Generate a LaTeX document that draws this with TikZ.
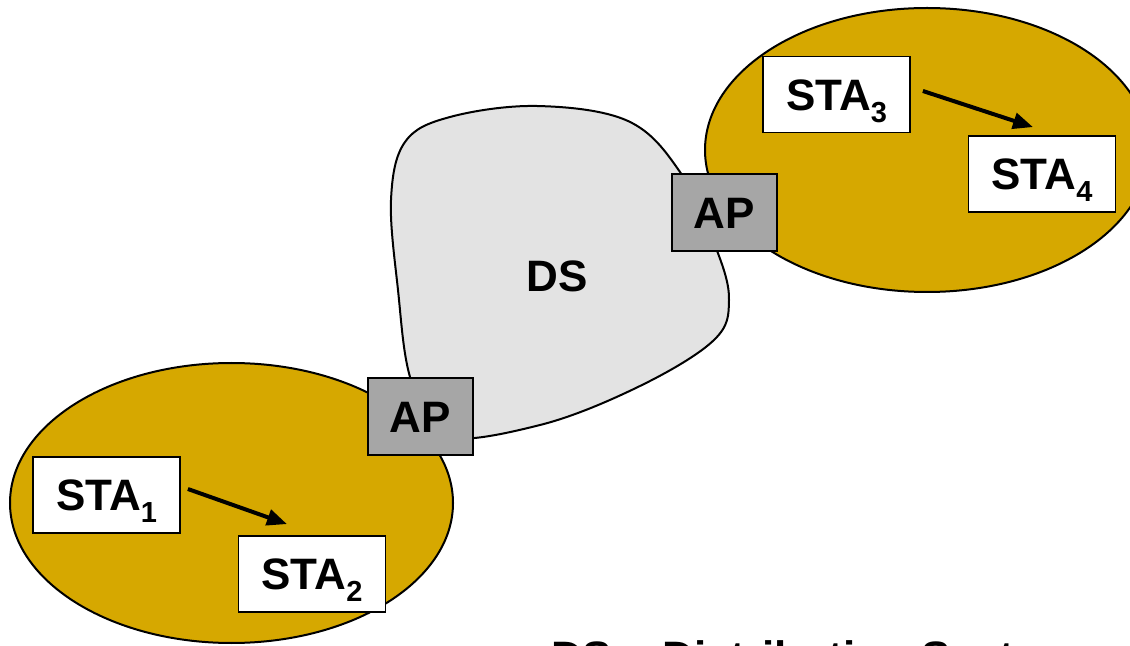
\documentclass[tikz,border=0pt]{standalone}
\usepackage{fontspec}
\setmainfont{Liberation Sans}
\usetikzlibrary{calc}
\usetikzlibrary{arrows.meta}
\usetikzlibrary{shapes.geometric}

\definecolor{bssgold}{RGB}{214,168,0}
\definecolor{dsgray}{RGB}{227,227,227}
\definecolor{apgray}{RGB}{166,166,166}

\newcommand{\stasub}[1]{\raisebox{-6pt}{\fontsize{14.5}{15}\selectfont #1}}

\tikzset{
  bss/.style={ellipse,draw,line width=1pt,fill=bssgold,inner sep=0pt},
  stabox/.style={draw,line width=0.9pt,fill=white,minimum width=73.5pt,
    minimum height=38pt,inner sep=0pt,text height=15.8pt,text depth=0pt},
  apbox/.style={draw,line width=0.9pt,fill=apgray,minimum width=52.5pt,
    minimum height=38.5pt,inner sep=0pt,text height=15.8pt,text depth=0pt},
  sendarrow/.style={-{Triangle[length=10pt,width=8pt]},line width=2pt}
}

\begin{document}
\begin{tikzpicture}[x=0.5pt,y=-0.5pt,font=\fontsize{22}{26}\selectfont\bfseries]
                    \useasboundingbox (0,0) rectangle (1130,646);
                    \clip (0,0) rectangle (1130,646);

                    % distribution system
                    \draw[line width=1pt,fill=dsgray] plot[smooth cycle,tension=0.6] coordinates {
                      (537,106) (628,121) (680,172) (716,248) (729,300) (714,340)
                      (640,386) (540,425) (440,436) (410,377) (398,290) (391,200)
                      (405,142) (450,117)};
                    \node (ds) at (557,276) {DS};

                    % basic service sets
                    \node[bss,minimum width=221.5pt,minimum height=140pt] (bssA) at (231.5,503) {};
                    \node[bss,minimum width=222pt,minimum height=142pt] (bssB) at (927,150) {};

                    % access points
                    \node[apbox] (apA) at (420.5,416.5) {AP};
                    \node[apbox] (apB) at (724.5,212.5) {AP};

                    % stations
                    \node[stabox] (sta1) at (106.5,495) {STA\stasub{1}};
                    \node[stabox] (sta2) at (312,574) {STA\stasub{2}};
                    \node[stabox] (sta3) at (836.5,94.5) {STA\stasub{3}};
                    \node[stabox] (sta4) at (1042,174) {STA\stasub{4}};

                    \draw[sendarrow] ($(sta1.east)+(7,-6)$) -- ($(sta2.north)+(-25,-11)$);
                    \draw[sendarrow] ($(sta3.east)+(12,-3.5)$) -- ($(sta4.north)+(-9,-8)$);

                    \node[anchor=base west] (legend) at (544,672) {DS = Distribution System};
                \end{tikzpicture}
\end{document}
